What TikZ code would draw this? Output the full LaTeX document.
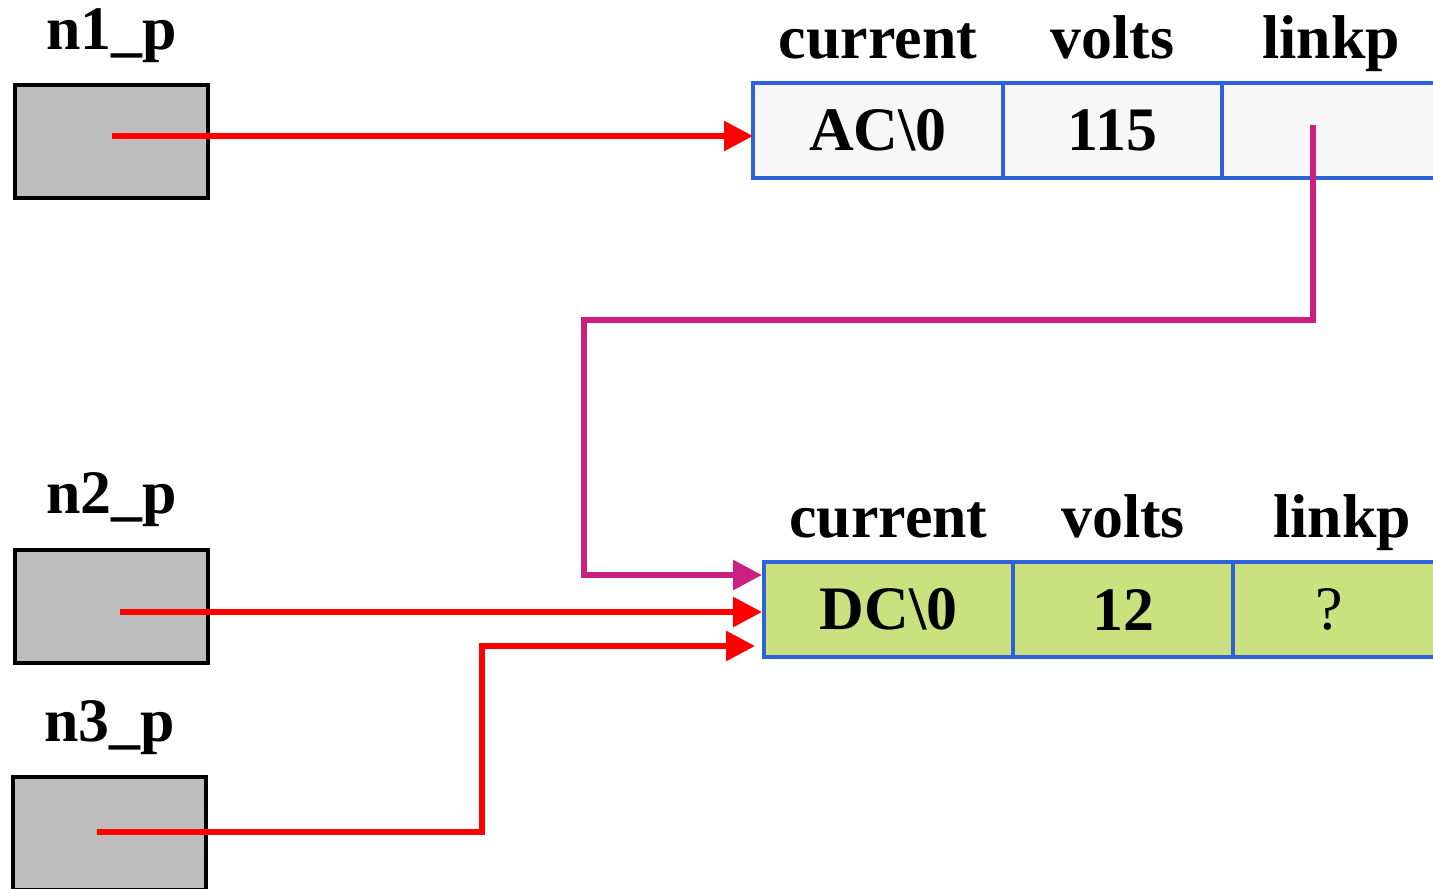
\documentclass[tikz,border=0pt]{standalone}
\usepackage{fontspec}
\setmainfont{Liberation Serif}
\usetikzlibrary{arrows.meta,positioning}
\definecolor{ptrgray}{HTML}{BEBEBE}
\definecolor{cellblue}{HTML}{2F62D8}
\definecolor{paleg}{HTML}{F7F7F7}
\definecolor{limeg}{HTML}{CBE180}
\definecolor{linkm}{HTML}{CC2080}

\begin{document}
\begin{tikzpicture}[font=\fontsize{17.6}{20}\selectfont\bfseries,
  >={Triangle[length=.29cm,width=.29cm]},
  ptr/.style={draw=black,line width=1pt,fill=ptrgray,
    minimum width=1.93cm,minimum height=1.13cm,inner sep=0pt},
  cell/.style={draw=cellblue,line width=1pt,minimum height=.95cm,
    inner sep=0pt,outer sep=0pt},
  hdr/.style={anchor=base,inner sep=0pt},
  wire/.style={red,line width=1.7pt,->},
  lnk/.style={linkm,line width=1.7pt,->}]
  \useasboundingbox (0,0) rectangle (14.33,-8.88);
  \clip (0,0) rectangle (14.33,-8.88);

  % pointer variables
  \node[ptr] (n1) at (1.115,-1.415) {};
  \node[ptr] (n2) at (1.115,-6.065) {};
  \node[ptr] (n3) at (1.095,-8.335) {};
  \node[hdr] (l1) at ([yshift=.34cm]n1.north) {n1\_p};
  \node[hdr] (l2) at ([yshift=.35cm]n2.north) {n2\_p};
  \node[hdr] (l3) at ([yshift=.34cm]n3.north) {n3\_p};

  % first record
  \node[cell,fill=paleg,minimum width=2.5cm] (ac) at (8.78,-1.305)
    {AC\textbackslash 0};
  \node[cell,fill=paleg,minimum width=2.19cm,right=0pt of ac] (v1) {115};
  \node[cell,fill=paleg,minimum width=2.18cm,right=0pt of v1] (lk1) {};
  \node[hdr] (h1) at ([yshift=.25cm]ac.north) {current};
  \node[hdr] (h2) at ([yshift=.25cm]v1.north) {volts};
  \node[hdr] (h3) at ([yshift=.25cm]lk1.north) {linkp};

  % second record
  \node[cell,fill=limeg,minimum width=2.49cm] (dc) at (8.885,-6.095)
    {DC\textbackslash 0};
  \node[cell,fill=limeg,minimum width=2.2cm,right=0pt of dc] (v2) {12};
  \node[cell,fill=limeg,minimum width=2.18cm,right=0pt of v2] (lk2)
    {\hspace{-.25cm}\mdseries ?};
  \node[hdr] (h4) at ([yshift=.25cm]dc.north) {current};
  \node[hdr] (h5) at ([yshift=.25cm]v2.north) {volts};
  \node[hdr] (h6) at ([yshift=.25cm]lk2.north) {linkp};

  % links
  \coordinate (s1) at (1.12,-1.36);
  \coordinate (s2) at (1.20,-6.12);
  \coordinate (s3) at (.97,-8.32);
  \coordinate (m0) at (13.13,-1.25);
  \draw[wire] (s1) -- (s1 -| ac.west);
  \draw[wire] (s2) -- ([xshift=-.02cm]s2 -| dc.west);
  \draw[wire] (s3) -- (4.82,-8.32)
    |- ([xshift=-.09cm,yshift=-.365cm]dc.west);
  \draw[lnk] (m0) |- (5.84,-3.20)
    |- ([xshift=-.02cm,yshift=.345cm]dc.west);
\end{tikzpicture}
\end{document}
